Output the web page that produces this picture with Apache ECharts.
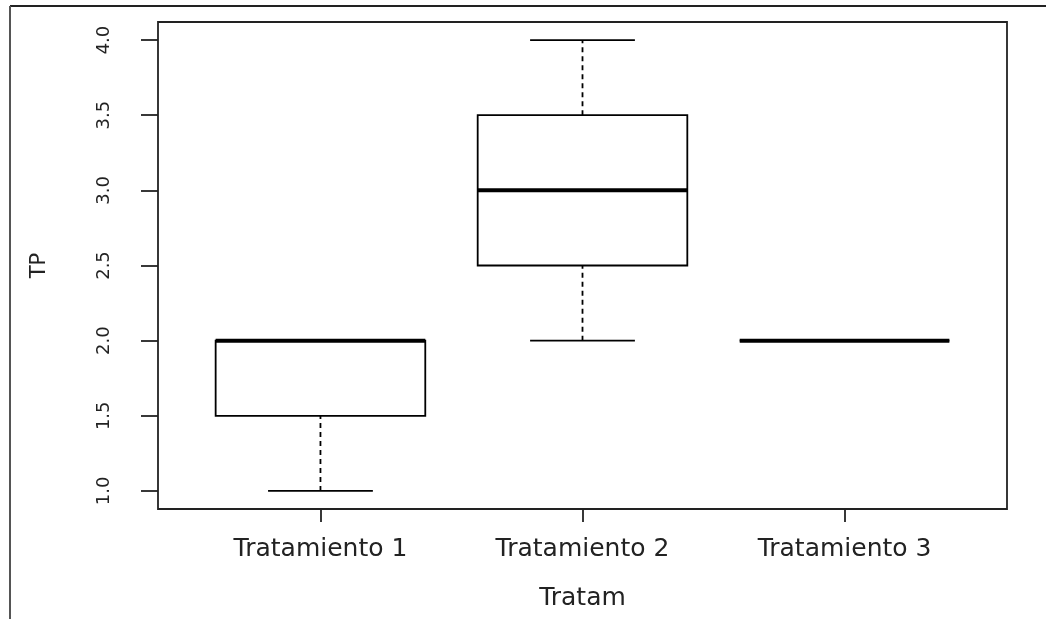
<!DOCTYPE html>
<html>
<head>
<meta charset="utf-8">
<script src="https://cdn.jsdelivr.net/npm/echarts@6/dist/echarts.min.js"></script>
<style>
  html, body { margin: 0; padding: 0; background: #fff; }
  #chart_tp { width: 1046px; height: 619px; }
</style>
</head>
<body>
<div id="chart_tp"></div>
<script>
// datos del boxplot TP ~ Tratam
var categories = ['Tratamiento 1', 'Tratamiento 2', 'Tratamiento 3'];
var lowWhisker = [1, 2, 2];
var q1 = [1.5, 2.5, 2];
var median = [2, 3, 2];
var q3 = [2, 3.5, 2];
var highWhisker = [2, 4, 2];
var yTicks = [1.0, 1.5, 2.0, 2.5, 3.0, 3.5, 4.0];

var boxData = categories.map(function (c, i) {
    return [i + 1, lowWhisker[i], q1[i], median[i], q3[i], highWhisker[i]];
});

var chart_tp = echarts.init(document.getElementById('chart_tp'));

function renderBox(params, api) {
    var x = api.value(0);
    var lo = api.value(1), b1 = api.value(2), md = api.value(3), b3 = api.value(4), hi = api.value(5);
    var halfBox = 0.4, halfCap = 0.2;
    var pLo = api.coord([x, lo]), pB1 = api.coord([x, b1]), pB3 = api.coord([x, b3]), pHi = api.coord([x, hi]);
    var boxL = api.coord([x - halfBox, b3]), boxR = api.coord([x + halfBox, b1]);
    var capL = api.coord([x - halfCap, lo]), capR = api.coord([x + halfCap, lo]);
    var capL2 = api.coord([x - halfCap, hi]), capR2 = api.coord([x + halfCap, hi]);
    var mL = api.coord([x - halfBox, md]), mR = api.coord([x + halfBox, md]);
    var line = { stroke: '#000', lineWidth: 1.8 };
    var dash = { stroke: '#000', lineWidth: 1.8, lineDash: [5, 4] };
    return {
        type: 'group',
        children: [
            { type: 'line', shape: { x1: pLo[0], y1: pLo[1], x2: pB1[0], y2: pB1[1] }, style: dash },
            { type: 'line', shape: { x1: pB3[0], y1: pB3[1], x2: pHi[0], y2: pHi[1] }, style: dash },
            { type: 'line', shape: { x1: capL[0], y1: capL[1], x2: capR[0], y2: capR[1] }, style: line },
            { type: 'line', shape: { x1: capL2[0], y1: capL2[1], x2: capR2[0], y2: capR2[1] }, style: line },
            { type: 'rect', shape: { x: boxL[0], y: boxL[1], width: boxR[0] - boxL[0], height: boxR[1] - boxL[1] },
              style: { fill: '#fff', stroke: '#000', lineWidth: 1.8 } },
            { type: 'line', shape: { x1: mL[0], y1: mL[1], x2: mR[0], y2: mR[1] }, style: { stroke: '#000', lineWidth: 4 } }
        ]
    };
}

var chart_tp_option = {
    backgroundColor: '#fff',
    animation: false,
    textStyle: { fontFamily: 'DejaVu Sans' },
    grid: {
        left: 158, top: 22, right: 39, bottom: 110,
        show: true, borderColor: '#222', borderWidth: 1.8, backgroundColor: 'transparent'
    },
    xAxis: {
        type: 'value',
        min: 0.38,
        max: 3.62,
        name: 'Tratam',
        nameLocation: 'middle',
        nameGap: 77,
        nameTextStyle: { fontSize: 25, color: '#222', fontFamily: 'DejaVu Sans' },
        axisLine: { show: false },
        splitLine: { show: false },
        axisTick: { show: true, length: 13, customValues: [1, 2, 3], lineStyle: { color: '#222', width: 1.8 } },
        axisLabel: {
            customValues: [1, 2, 3],
            margin: 28,
            fontSize: 25,
            color: '#222',
            fontFamily: 'DejaVu Sans',
            formatter: function (v) { return categories[Math.round(v) - 1]; }
        }
    },
    yAxis: {
        type: 'value',
        min: 0.88,
        max: 4.12,
        name: 'TP',
        nameLocation: 'middle',
        nameGap: 108,
        nameRotate: 90,
        nameTextStyle: { fontSize: 21, color: '#222', fontFamily: 'DejaVu Sans' },
        axisLine: { show: false },
        splitLine: { show: false },
        axisTick: { show: true, length: 17, customValues: yTicks, lineStyle: { color: '#222', width: 1.8 } },
        axisLabel: {
            customValues: yTicks,
            rotate: 90,
            margin: 45,
            fontSize: 18,
            color: '#222',
            fontFamily: 'DejaVu Sans',
            formatter: function (v) { return v.toFixed(1); }
        }
    },
    graphic: [
        { type: 'line', shape: { x1: 10, y1: 6, x2: 1046, y2: 6 }, style: { stroke: '#222', lineWidth: 2 } },
        { type: 'line', shape: { x1: 10, y1: 6, x2: 10, y2: 619 }, style: { stroke: '#555', lineWidth: 2 } }
    ],
    series: [
        {
            name: 'TP',
            type: 'custom',
            renderItem: renderBox,
            encode: { x: 0, y: [1, 2, 3, 4, 5] },
            data: boxData
        }
    ]
};
chart_tp.setOption(chart_tp_option);
</script>
</body>
</html>
